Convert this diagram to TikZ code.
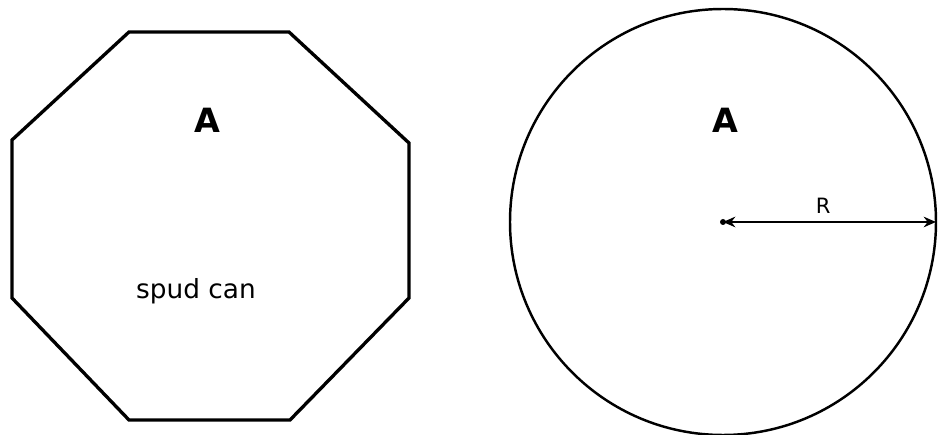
\documentclass[tikz,border=0pt]{standalone}
\usepackage{fontspec}
\setmainfont{DejaVu Sans}
\usetikzlibrary{arrows.meta}
\tikzset{
  outline/.style={line width=1.9pt, line join=miter},
  lbl/.style={inner sep=0pt, font=\fontsize{19}{21}\selectfont\bfseries},
  small/.style={inner sep=0pt, font=\fontsize{12}{14}\selectfont},
}
\begin{document}
\begin{tikzpicture}[x=0.02cm, y=-0.02cm, >={Stealth[length=7pt, width=6pt]}]
  \useasboundingbox (0,0) rectangle (938,435);
  % octagonal spud can
  \draw[outline] (129,32) -- (289,32) -- (409,143) -- (409,298)
    -- (290,420) -- (129,420) -- (12,298) -- (12,140) -- cycle;
  \node[lbl] (octA) at (207,120) {A};
  \node[small, font=\fontsize{15}{17}\selectfont] (spud) at (196,291) {spud can};
  % equivalent circle
  \coordinate (ctr) at (723,222);
  \draw[line width=1.4pt] (ctr) circle[radius=213];
  \node[lbl] (circA) at (725,120) {A};
  \coordinate (rim) at (936,222);
  \fill (ctr) circle[radius=3];
  \draw[<->, line width=1.3pt] (ctr) -- (rim)
    node[small, pos=0.47, above=4pt] (rlab) {R};
\end{tikzpicture}
\end{document}
